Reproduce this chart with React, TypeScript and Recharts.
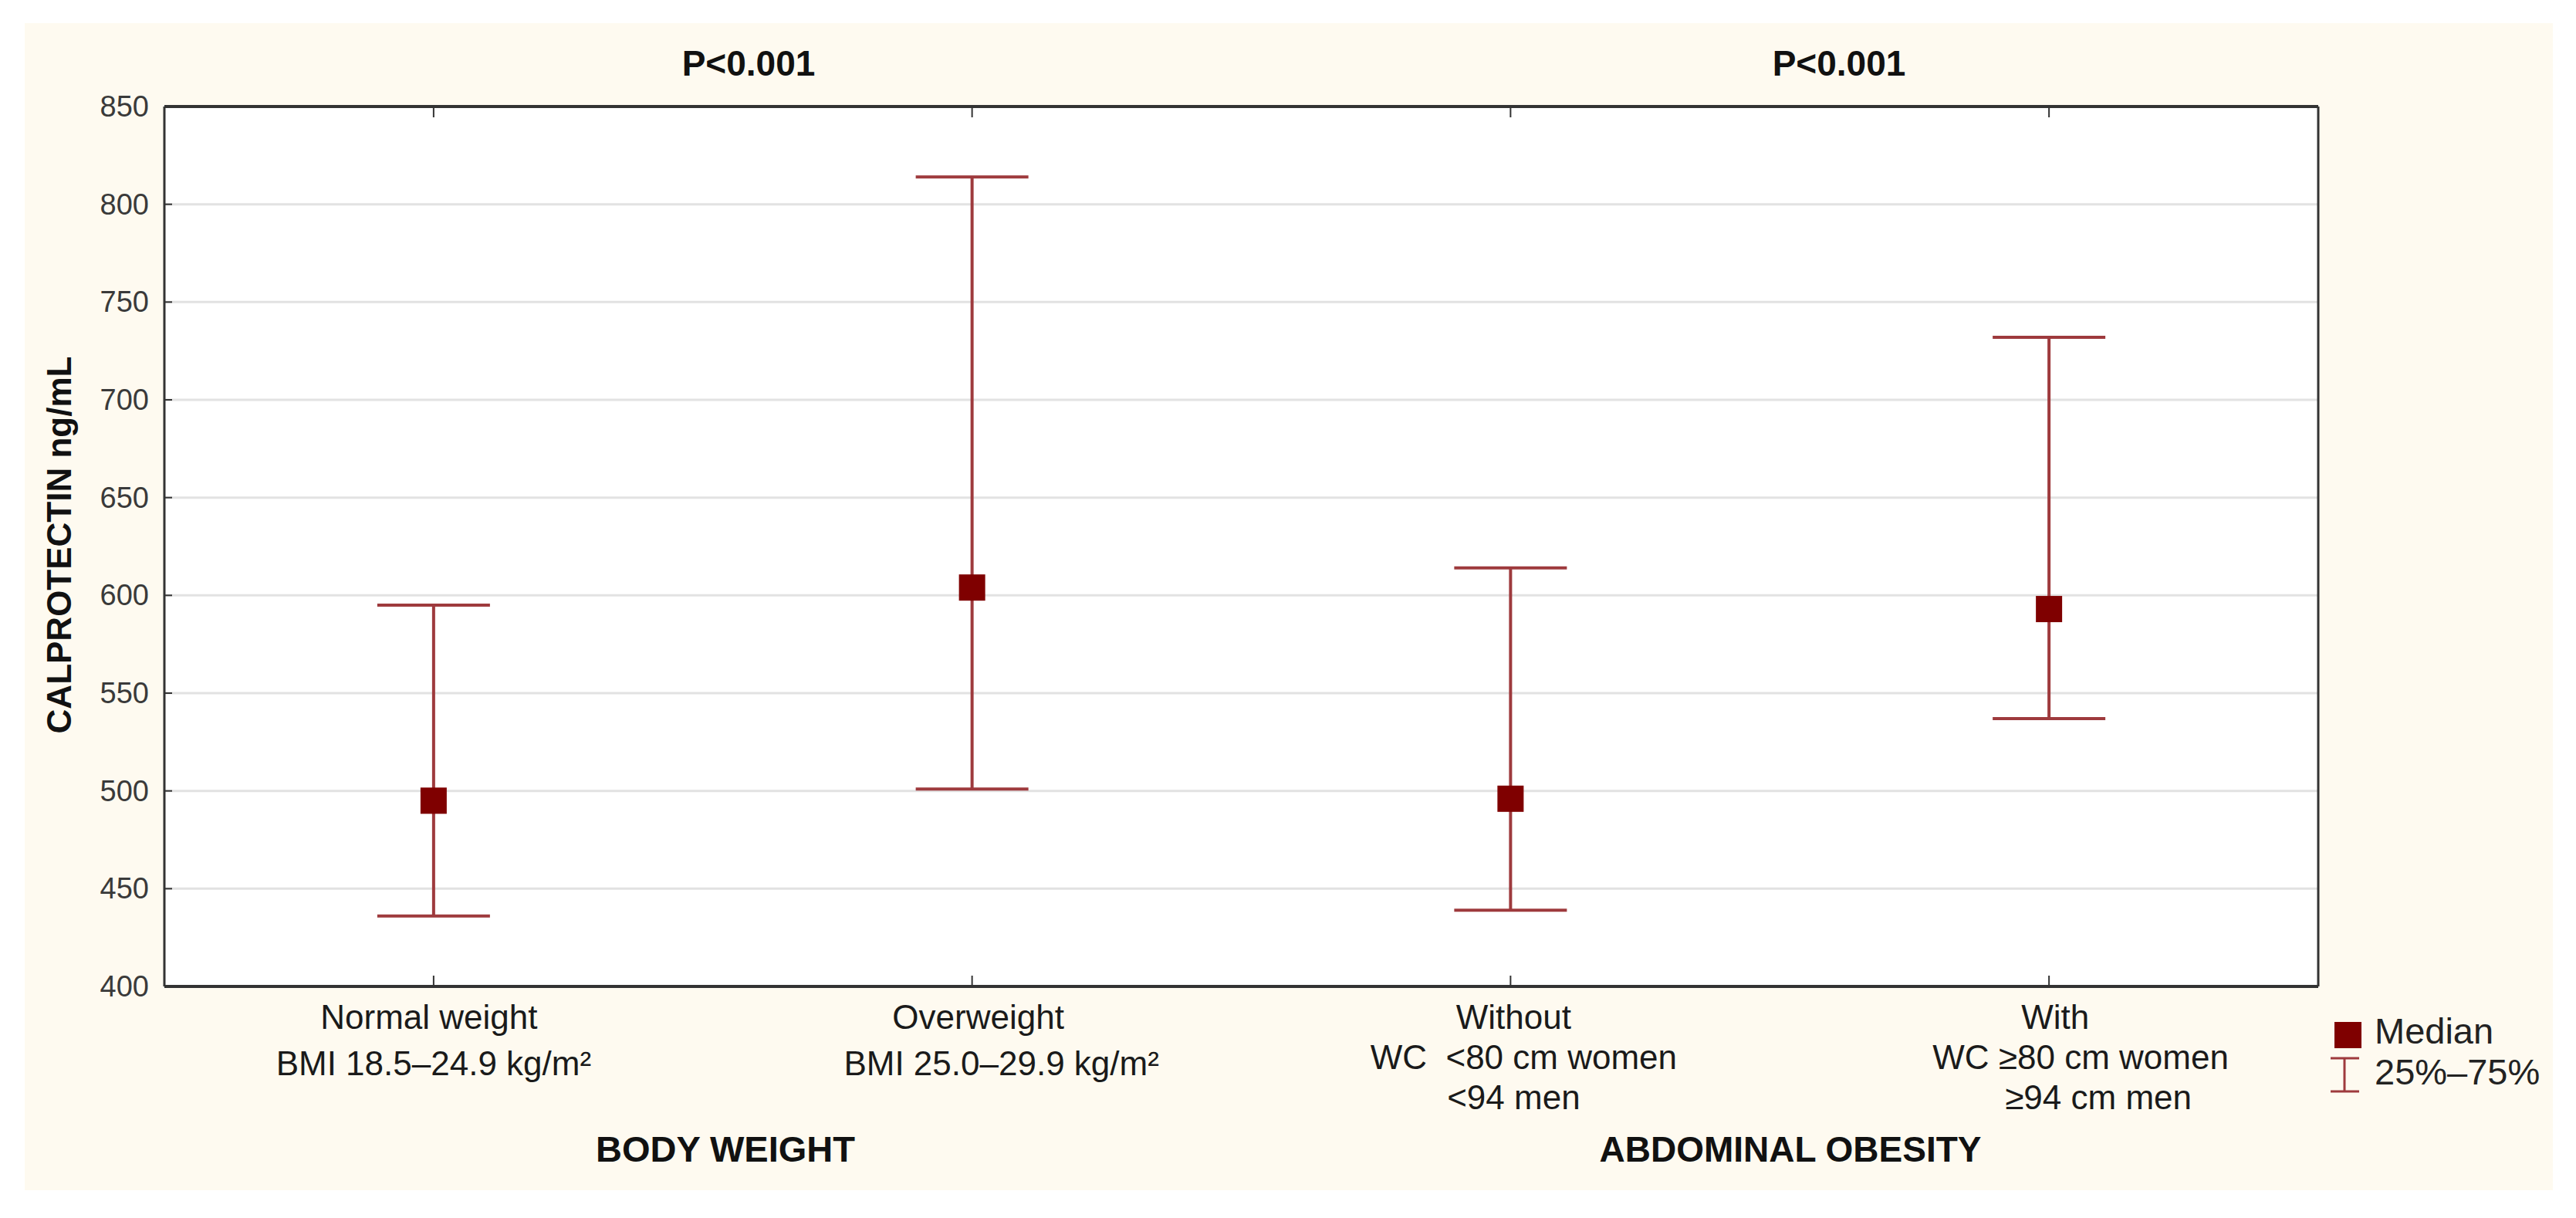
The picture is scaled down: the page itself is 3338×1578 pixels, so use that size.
import React from 'react';
import {
  ComposedChart,
  Scatter,
  ErrorBar,
  XAxis,
  YAxis,
  CartesianGrid,
  Legend,
  Customized,
} from 'recharts';

// categories and their extra label lines
const CATEGORIES = ['Normal weight', 'Overweight', 'Without', 'With'];
const CATEGORY_SUBLINES = [
  ['BMI 18.5–24.9 kg/m²'],
  ['BMI 25.0–29.9 kg/m²'],
  ['WC  <80 cm women', '<94 men'],
  ['WC ≥80 cm women', '≥94 cm men'],
];

// calprotectin ng/mL
const MEDIANS = [495, 604, 496, 593];
const Q25 = [436, 501, 439, 537];
const Q75 = [595, 814, 614, 732];

const Y_TICKS = [400, 450, 500, 550, 600, 650, 700, 750, 800, 850];
const GROUP_TITLES = ['BODY WEIGHT', 'ABDOMINAL OBESITY'];
const P_VALUES = ['P<0.001', 'P<0.001'];
const LEGEND_RANGE = '25%–75%';

const data = CATEGORIES.map((name, i) => ({
  name,
  median: MEDIANS[i],
  err: [MEDIANS[i] - Q25[i], Q75[i] - MEDIANS[i]],
}));

const FONT = '"Liberation Sans", Arial, sans-serif';
const AXIS = '#333';
const BAR = '#9E3A3D';
const MARK = '#7F0000';

// small horizontal nudges so the label lines sit like the original
const LABEL_DX = [
  [-6, 0],
  [8, 38],
  [4, 17, 4],
  [8, 41, 64],
];

const BottomTick = (props: any) => {
  const { x, y, payload } = props;
  const i = CATEGORIES.indexOf(payload.value);
  const subs = CATEGORY_SUBLINES[i] || [];
  const gap = subs.length > 1 ? 52 : 60;
  return (
    <g>
      <line x1={x} y1={y} x2={x} y2={y - 14} stroke={AXIS} strokeWidth={2} />
      <text
        x={x + LABEL_DX[i][0]}
        y={y + 55}
        textAnchor="middle"
        fontFamily={FONT}
        fontSize={44}
        fill="#1a1a1a"
      >
        {payload.value}
      </text>
      {subs.map((s, k) => (
        <text
          key={k}
          x={x + LABEL_DX[i][k + 1]}
          y={y + 55 + gap * (k + 1)}
          textAnchor="middle"
          fontFamily={FONT}
          fontSize={44}
          fill="#1a1a1a"
          style={{ whiteSpace: 'pre' }}
        >
          {s}
        </text>
      ))}
    </g>
  );
};

const TopTick = (props: any) => {
  const { x, y } = props;
  return <line x1={x} y1={y} x2={x} y2={y + 14} stroke={AXIS} strokeWidth={2} />;
};

const LeftTick = (props: any) => {
  const { x, y, payload } = props;
  return (
    <g>
      <line x1={x} y1={y} x2={x + 10} y2={y} stroke={AXIS} strokeWidth={2} />
      <text
        x={x - 20}
        y={y}
        textAnchor="end"
        dominantBaseline="central"
        fontFamily={FONT}
        fontSize={38}
        fill="#3a3a3a"
      >
        {payload.value}
      </text>
    </g>
  );
};

const RightTick = (props: any) => {
  const { x, y } = props;
  return <line x1={x} y1={y} x2={x - 10} y2={y} stroke={AXIS} strokeWidth={2} />;
};

const MedianSquare = (props: any) => {
  const { cx, cy } = props;
  return <rect x={cx - 17} y={cy - 17} width={34} height={34} fill={MARK} />;
};

const Annotations = () => (
  <g fontFamily={FONT} fill="#111">
    <text x={970} y={98} textAnchor="middle" fontSize={46} fontWeight="bold">
      {P_VALUES[0]}
    </text>
    <text x={2383} y={98} textAnchor="middle" fontSize={46} fontWeight="bold">
      {P_VALUES[1]}
    </text>
    <text x={940} y={1505} textAnchor="middle" fontSize={47} fontWeight="bold">
      {GROUP_TITLES[0]}
    </text>
    <text x={2320} y={1505} textAnchor="middle" fontSize={46} fontWeight="bold">
      {GROUP_TITLES[1]}
    </text>
    <text
      x={76}
      y={706}
      transform="rotate(-90 76 706)"
      textAnchor="middle"
      dominantBaseline="central"
      fontSize={44}
      fontWeight="bold"
    >
      CALPROTECTIN ng/mL
    </text>
  </g>
);

const LegendBox = (props: any) => {
  const label = props.payload && props.payload[0] ? props.payload[0].value : 'Median';
  return (
    <svg width={300} height={130} style={{ display: 'block' }}>
      <rect x={15} y={24} width={35} height={34} fill={MARK} />
      <text x={67} y={52} fontFamily={FONT} fontSize={47} fill="#222">
        {label}
      </text>
      <line x1={28} y1={71} x2={28} y2={114} stroke={BAR} strokeWidth={3} />
      <line x1={10} y1={71} x2={47} y2={71} stroke={BAR} strokeWidth={3} />
      <line x1={10} y1={114} x2={47} y2={114} stroke={BAR} strokeWidth={3} />
      <text x={67} y={105} fontFamily={FONT} fontSize={47} fill="#222">
        {LEGEND_RANGE}
      </text>
    </svg>
  );
};

export default function App() {
  return (
    <div
      style={{
        position: 'absolute',
        left: 0,
        top: 0,
        width: 3338,
        height: 1578,
        background: '#fff',
        overflow: 'hidden',
      }}
    >
      <div
        style={{
          position: 'absolute',
          left: 32,
          top: 30,
          width: 3276,
          height: 1512,
          background: '#FEFAF0',
        }}
      />
      <div style={{ position: 'absolute', left: 0, top: 0 }}>
        <ComposedChart
          width={3338}
          height={1578}
          data={data}
          margin={{ top: 128, right: 324, bottom: 100, left: 33 }}
        >
          <CartesianGrid
            xAxisId="bottom"
            yAxisId="left"
            vertical={false}
            stroke="#e2e2e2"
            strokeWidth={3}
            fill="#fff"
          />
          <XAxis
            xAxisId="bottom"
            dataKey="name"
            type="category"
            scale="band"
            orientation="bottom"
            height={200}
            interval={0}
            tickSize={0}
            tickMargin={0}
            tick={<BottomTick />}
            axisLine={{ stroke: AXIS, strokeWidth: 4 }}
          />
          <XAxis
            xAxisId="top"
            dataKey="name"
            type="category"
            scale="band"
            orientation="top"
            height={10}
            interval={0}
            tickSize={0}
            tickMargin={0}
            tick={<TopTick />}
            axisLine={{ stroke: AXIS, strokeWidth: 4 }}
          />
          <YAxis
            yAxisId="left"
            type="number"
            domain={[400, 850]}
            ticks={Y_TICKS}
            width={180}
            tickSize={0}
            tickMargin={0}
            tick={<LeftTick />}
            axisLine={{ stroke: AXIS, strokeWidth: 3 }}
          />
          <YAxis
            yAxisId="right"
            orientation="right"
            type="number"
            domain={[400, 850]}
            ticks={Y_TICKS}
            width={10}
            tickSize={0}
            tickMargin={0}
            tick={<RightTick />}
            axisLine={{ stroke: AXIS, strokeWidth: 3 }}
          />
          <Scatter
            name="Median"
            xAxisId="bottom"
            yAxisId="left"
            dataKey="median"
            fill={MARK}
            shape={<MedianSquare />}
            isAnimationActive={false}
          >
            <ErrorBar
              dataKey="err"
              direction="y"
              width={73}
              stroke={BAR}
              strokeWidth={4}
              isAnimationActive={false}
            />
          </Scatter>
          <Legend
            layout="horizontal"
            verticalAlign="middle"
            align="center"
            content={<LegendBox />}
            wrapperStyle={{ position: 'absolute', left: 3010, top: 1300, width: 300, height: 130 }}
          />
          <Customized component={Annotations} />
        </ComposedChart>
      </div>
    </div>
  );
}
